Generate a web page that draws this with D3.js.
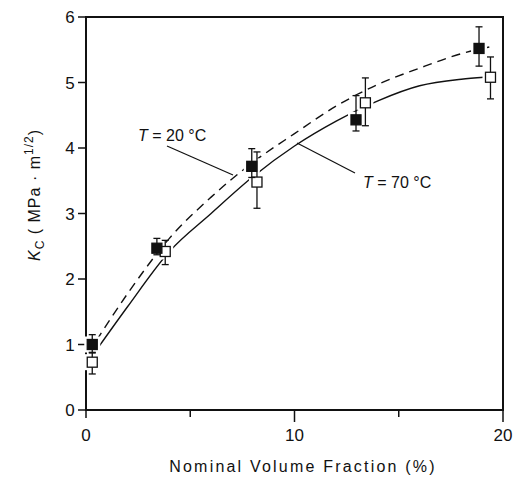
<!DOCTYPE html>
<html>
<head>
<meta charset="utf-8">
<script src="https://cdn.jsdelivr.net/npm/d3@7"></script>
<style>
  body { margin: 0; background: #fff; }
  text { font-family: "Liberation Sans", Arial, sans-serif; fill: #111; }
</style>
</head>
<body>
<div id="chart"></div>
<script>
// measured points (volume fraction %, K_C, error)
const xs20 = [0.3, 3.4, 7.95, 12.95, 18.85];
const ks20 = [1.0, 2.47, 3.72, 4.43, 5.52];
const errLo20 = [0.12, 0.1, 0.17, 0.17, 0.27];
const errHi20 = [0.15, 0.15, 0.27, 0.37, 0.33];

const xs70 = [0.3, 3.8, 8.2, 13.4, 19.4];
const ks70 = [0.73, 2.42, 3.48, 4.69, 5.08];
const errLo70 = [0.18, 0.2, 0.4, 0.35, 0.33];
const errHi70 = [0.14, 0.17, 0.46, 0.38, 0.31];

// fitted curves
const curveX20 = [0.5, 2, 4, 6, 8, 10, 12, 14, 16, 18, 19.6];
const curveY20 = [1.06, 1.78, 2.62, 3.25, 3.78, 4.22, 4.64, 4.97, 5.22, 5.44, 5.56];
const curveX70 = [0.6, 2, 4, 6, 8, 10, 12, 14, 16, 18, 19.1];
const curveY70 = [0.96, 1.58, 2.42, 3.0, 3.56, 4.03, 4.41, 4.72, 4.95, 5.05, 5.08];

const xTicks = [0, 10, 20];
const xMinor = [5, 15];
const yTicks = [0, 1, 2, 3, 4, 5, 6];

const W = 514, H = 481;
const svg = d3.select("#chart").append("svg")
    .attr("width", W).attr("height", H);

const x = d3.scaleLinear().domain([0, 20]).range([86, 503]);
const y = d3.scaleLinear().domain([0, 6]).range([410, 17]);

// frame
svg.append("rect")
    .attr("x", x(0)).attr("y", y(6))
    .attr("width", x(20) - x(0)).attr("height", y(0) - y(6))
    .attr("fill", "none").attr("stroke", "#111").attr("stroke-width", 2);

// x ticks
svg.selectAll(".xt").data(xTicks).join("line")
    .attr("x1", d => x(d)).attr("x2", d => x(d))
    .attr("y1", y(0)).attr("y2", d => y(0) + (d === 0 ? 8 : 12))
    .attr("stroke", "#111").attr("stroke-width", 1.5);
svg.selectAll(".xm").data(xMinor).join("line")
    .attr("x1", d => x(d)).attr("x2", d => x(d))
    .attr("y1", y(0)).attr("y2", y(0) + 7)
    .attr("stroke", "#111").attr("stroke-width", 1.5);
svg.selectAll(".xl").data(xTicks).join("text")
    .attr("x", d => x(d)).attr("y", 441)
    .attr("text-anchor", "middle").style("font-size", "17px")
    .text(d => d);

// y ticks
svg.selectAll(".yt").data(yTicks).join("line")
    .attr("x1", x(0) - 8).attr("x2", x(0))
    .attr("y1", d => y(d)).attr("y2", d => y(d))
    .attr("stroke", "#111").attr("stroke-width", 1.5);
svg.selectAll(".yl").data(yTicks).join("text")
    .attr("x", 70).attr("y", d => y(d) + 6)
    .attr("text-anchor", "middle").style("font-size", "17px")
    .text(d => d);

// axis titles
svg.append("text")
    .attr("x", 303).attr("y", 472)
    .attr("text-anchor", "middle")
    .style("font-size", "16px").style("letter-spacing", "2.2px")
    .text("Nominal Volume Fraction (%)");

const yt = svg.append("text")
    .attr("transform", "translate(40,195) rotate(-90)")
    .attr("text-anchor", "middle")
    .style("font-size", "16px").style("letter-spacing", "1px");
yt.append("tspan").style("font-style", "italic").text("K");
yt.append("tspan").attr("dy", 4).style("font-size", "12px").text("C");
yt.append("tspan").attr("dy", -4).text("  ( MPa · m");
yt.append("tspan").attr("dy", -7).style("font-size", "12px").text("1/2");
yt.append("tspan").attr("dy", 7).text(")");

// curves
const line = d3.line().x(d => x(d[0])).y(d => y(d[1])).curve(d3.curveMonotoneX);
svg.append("path")
    .attr("d", line(d3.zip(curveX20, curveY20)))
    .attr("fill", "none").attr("stroke", "#111").attr("stroke-width", 1.4)
    .attr("stroke-dasharray", "9,6");
svg.append("path")
    .attr("d", line(d3.zip(curveX70, curveY70)))
    .attr("fill", "none").attr("stroke", "#111").attr("stroke-width", 1.4);

// white halos so the curves break around the markers
const allX = xs20.concat(xs70), allK = ks20.concat(ks70);
svg.selectAll(".halo").data(allX).join("rect")
    .attr("x", d => x(d) - 8).attr("y", (d, i) => y(allK[i]) - 8)
    .attr("width", 16).attr("height", 16).attr("fill", "#fff");

// error bars + markers
function drawSeries(xv, kv, lo, hi, filled) {
  const g = svg.append("g");
  const data = xv.map((d, i) => ({x: d, k: kv[i], lo: lo[i], hi: hi[i]}));
  g.selectAll(".eb").data(data).join("line")
      .attr("x1", d => x(d.x)).attr("x2", d => x(d.x))
      .attr("y1", d => y(d.k - d.lo)).attr("y2", d => y(d.k + d.hi))
      .attr("stroke", "#111").attr("stroke-width", 1.3);
  ["lo", "hi"].forEach(s => {
    g.selectAll(".cap" + s).data(data).join("line")
        .attr("x1", d => x(d.x) - 3.5).attr("x2", d => x(d.x) + 3.5)
        .attr("y1", d => y(s === "lo" ? d.k - d.lo : d.k + d.hi))
        .attr("y2", d => y(s === "lo" ? d.k - d.lo : d.k + d.hi))
        .attr("stroke", "#111").attr("stroke-width", 1.3);
  });
  g.selectAll(".mk").data(data).join("rect")
      .attr("x", d => x(d.x) - 5).attr("y", d => y(d.k) - 5)
      .attr("width", 10).attr("height", 10)
      .attr("fill", filled ? "#111" : "#fff")
      .attr("stroke", "#111").attr("stroke-width", 1.3);
}
drawSeries(xs70, ks70, errLo70, errHi70, false);
drawSeries(xs20, ks20, errLo20, errHi20, true);

// annotations
svg.append("line").attr("x1", 167).attr("y1", 146).attr("x2", 233).attr("y2", 175)
    .attr("stroke", "#111").attr("stroke-width", 1.2);
svg.append("line").attr("x1", 297).attr("y1", 143).attr("x2", 355).attr("y2", 173)
    .attr("stroke", "#111").attr("stroke-width", 1.2);

const t20 = svg.append("text").attr("x", 138).attr("y", 141).style("font-size", "16px");
t20.append("tspan").style("font-style", "italic").text("T");
t20.append("tspan").text(" = 20 °C");

const t70 = svg.append("text").attr("x", 363).attr("y", 188).style("font-size", "16px");
t70.append("tspan").style("font-style", "italic").text("T");
t70.append("tspan").text(" = 70  °C");
</script>
</body>
</html>
